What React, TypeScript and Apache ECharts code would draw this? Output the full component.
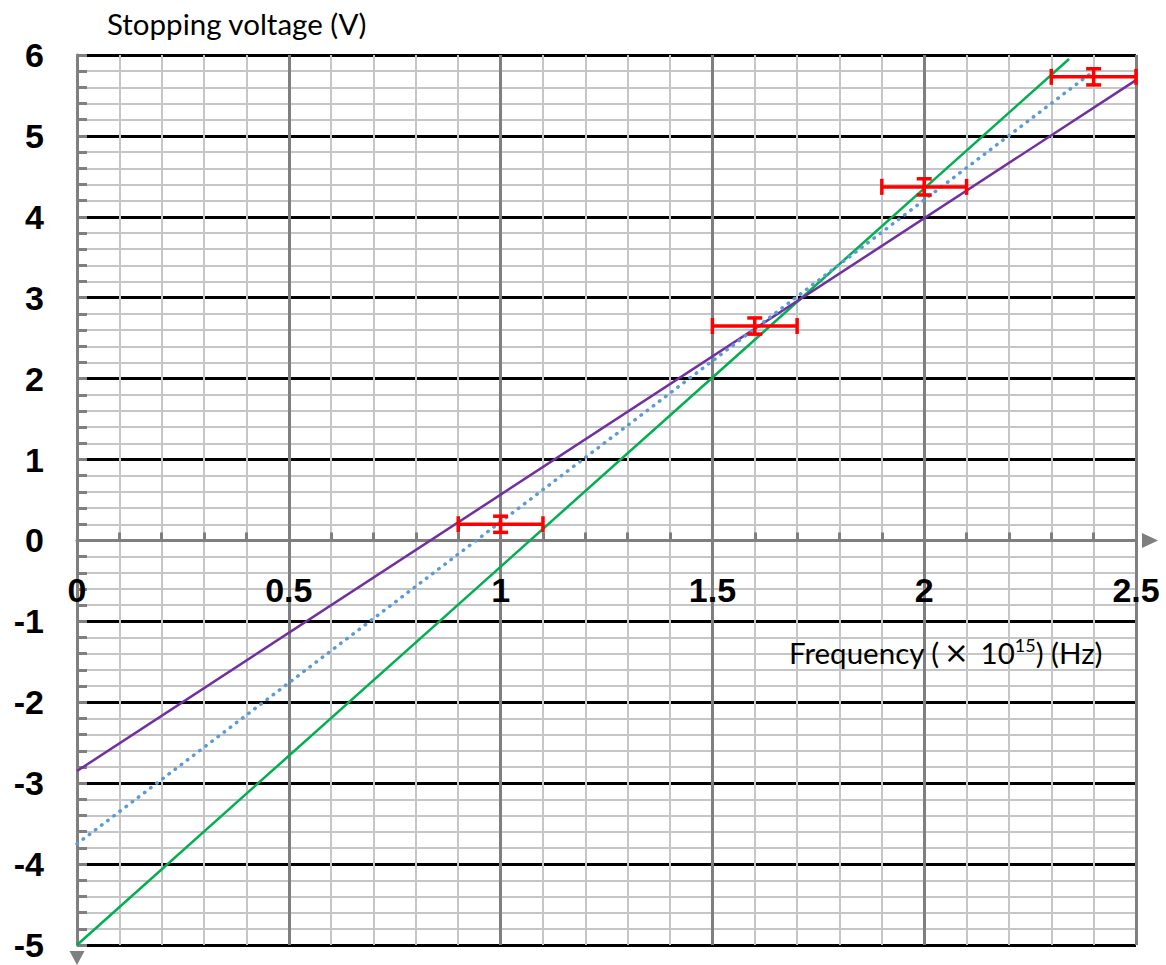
import React, { useEffect, useRef } from "react";
import * as echarts from "echarts";

// Measured data points (frequency in 10^15 Hz, stopping voltage in V)
const frequency = [1.0, 1.6, 2.0, 2.4];
const voltage = [0.2, 2.65, 4.37, 5.73];
const frequencyError = [0.1, 0.1, 0.1, 0.1];
const voltageError = [0.1, 0.1, 0.1, 0.1];

// Fitted lines (end points)
const steepLine = [[0, -5.0], [2.342, 5.95]];
const shallowLine = [[0, -2.85], [2.5, 5.69]];
const trendLine = [[0, -3.75], [2.4, 5.8]];

const xMin = 0, xMax = 2.5, xStep = 0.5;
const yMin = -5, yMax = 6, yStep = 1;

const TEXT_FONT = "Lato";
const LABEL_FONT = "Liberation Sans";

const CHART_W = 1166;
const CHART_H = 965;
const GRID = { left: 77, right: 30, top: 55, bottom: 20 };

export default function App() {
  const ref = useRef<HTMLDivElement>(null);
  useEffect(() => {
    document.body.style.margin = "0";
    const chart = echarts.init(ref.current!, undefined, { renderer: "svg" });
    const errorData = frequency.map((f, i) => [f, voltage[i], frequencyError[i], voltageError[i]]);
    const axisGrey = "#7f7f7f";
    const minorGrey = "#c6c6c6";
    const gridHeight = CHART_H - GRID.top - GRID.bottom;
    // distance from the grid's bottom edge up to the y = 0 line
    const zeroLift = (gridHeight * (0 - yMin)) / (yMax - yMin);
    const labelStyle = {
      fontFamily: LABEL_FONT,
      fontWeight: "bold",
      fontSize: 34,
      color: "#000",
      showMinLabel: true,
      showMaxLabel: true,
    };
    chart.setOption({
      animation: false,
      backgroundColor: "#ffffff",
      title: [
        {
          text: "Stopping voltage (V)",
          left: 107,
          top: 8,
          padding: 0,
          textStyle: { fontFamily: TEXT_FONT, fontSize: 29.5, fontWeight: "normal", color: "#000" },
        },
        {
          text: "Frequency ({times|×} 10{sup|15}) (Hz)",
          left: 789,
          top: 636,
          padding: 0,
          textStyle: {
            fontFamily: TEXT_FONT,
            fontSize: 29.5,
            fontWeight: "normal",
            color: "#000",
            rich: {
              times: { fontFamily: "DejaVu Sans", fontSize: 30, color: "#000", padding: [0, 4, 0, 4] },
              sup: { fontFamily: TEXT_FONT, fontSize: 18, color: "#000", padding: [0, 0, 14, 0] },
            },
          },
        },
      ],
      grid: { ...GRID, containLabel: false, outerBoundsMode: "none" },
      xAxis: [
        {
          type: "value",
          min: xMin,
          max: xMax,
          interval: xStep,
          axisLine: {
            show: true,
            onZero: true,
            symbol: ["none", "triangle"],
            symbolSize: [15, 16],
            symbolOffset: [0, 14],
            lineStyle: { color: axisGrey, width: 3 },
          },
          axisTick: { show: true, inside: true, length: 8, lineStyle: { color: axisGrey, width: 3 } },
          minorTick: { show: true, splitNumber: 5, length: 8, lineStyle: { color: axisGrey, width: 3 } },
          axisLabel: { show: false },
          splitLine: { show: true, lineStyle: { color: axisGrey, width: 3 } },
          minorSplitLine: { show: true, lineStyle: { color: minorGrey, width: 2 } },
        },
        {
          // label-only axis sitting on the y = 0 line
          type: "value",
          min: xMin,
          max: xMax,
          interval: xStep,
          position: "bottom",
          offset: -zeroLift,
          axisLine: { show: false, onZero: false },
          axisTick: { show: false },
          minorTick: { show: false },
          splitLine: { show: false },
          minorSplitLine: { show: false },
          axisLabel: { ...labelStyle, margin: 33 },
        },
      ],
      yAxis: {
        type: "value",
        min: yMin,
        max: yMax,
        interval: yStep,
        axisLine: {
          show: true,
          onZero: false,
          symbol: ["triangle", "none"],
          symbolSize: [15, 14],
          symbolOffset: [-13, 0],
          lineStyle: { color: axisGrey, width: 3 },
        },
        axisTick: { show: true, inside: true, length: 10, lineStyle: { color: axisGrey, width: 3 } },
        minorTick: { show: true, splitNumber: 5, length: 10, lineStyle: { color: axisGrey, width: 3 } },
        axisLabel: { ...labelStyle, margin: 33 },
        splitLine: { show: true, lineStyle: { color: "#000000", width: 3 } },
        minorSplitLine: { show: true, lineStyle: { color: minorGrey, width: 2 } },
      },
      series: [
        {
          type: "line",
          name: "steep",
          data: steepLine,
          symbol: "none",
          lineStyle: { color: "#00b050", width: 2.5 },
          z: 3,
        },
        {
          type: "line",
          name: "shallow",
          data: shallowLine,
          symbol: "none",
          lineStyle: { color: "#7030a0", width: 2.5 },
          z: 3,
        },
        {
          type: "line",
          name: "trend",
          data: trendLine,
          symbol: "none",
          lineStyle: { color: "#5b9bd5", width: 3.5, type: [0.5, 7.2], cap: "round" },
          z: 4,
        },
        {
          type: "custom",
          name: "errors",
          data: errorData,
          z: 5,
          renderItem: (params: any, api: any) => {
            const x = api.value(0);
            const y = api.value(1);
            const ex = api.value(2);
            const ey = api.value(3);
            const l = api.coord([x - ex, y]);
            const r = api.coord([x + ex, y]);
            const t = api.coord([x, y + ey]);
            const b = api.coord([x, y - ey]);
            const capX = 8;
            const capY = 7.5;
            const style = { stroke: "#ff0000", lineWidth: 3.5, fill: "none" };
            return {
              type: "group",
              children: [
                { type: "line", shape: { x1: l[0], y1: l[1], x2: r[0], y2: r[1] }, style },
                { type: "line", shape: { x1: l[0], y1: l[1] - capX, x2: l[0], y2: l[1] + capX }, style },
                { type: "line", shape: { x1: r[0], y1: r[1] - capX, x2: r[0], y2: r[1] + capX }, style },
                { type: "line", shape: { x1: t[0], y1: t[1], x2: b[0], y2: b[1] }, style },
                { type: "line", shape: { x1: t[0] - capY, y1: t[1], x2: t[0] + capY, y2: t[1] }, style },
                { type: "line", shape: { x1: b[0] - capY, y1: b[1], x2: b[0] + capY, y2: b[1] }, style },
              ],
            };
          },
        },
      ],
    });
    return () => chart.dispose();
  }, []);
  return <div ref={ref} style={{ width: CHART_W, height: CHART_H }} />;
}
